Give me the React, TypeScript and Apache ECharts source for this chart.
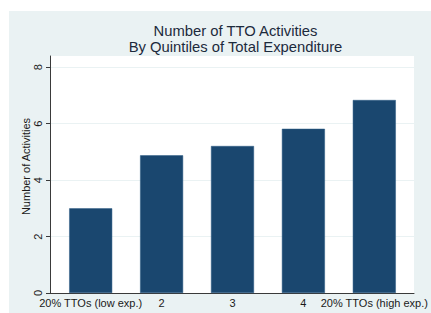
import React, { useEffect, useRef } from "react";
import * as echarts from "echarts";

const categories = [
  "20% TTOs (low exp.)",
  "2",
  "3",
  "4",
  "20% TTOs (high exp.)",
];
const activities = [3.0, 4.88, 5.21, 5.82, 6.84];
const yTicks = [0, 2, 4, 6, 8];

const BAR = "#1a476f";
const BG = "#eaf2f3";
const FONT = "'Liberation Sans', Arial, sans-serif";

export default function App() {
  const ref = useRef<HTMLDivElement>(null);
  useEffect(() => {
    if (!ref.current) return;
    const chart = echarts.init(ref.current, undefined, { renderer: "svg" });
    chart.setOption({
      animation: false,
      backgroundColor: "#ffffff",
      textStyle: { fontFamily: FONT },
      graphic: [
        {
          type: "rect",
          z: -10,
          silent: true,
          shape: { x: 9, y: 11, width: 422, height: 302 },
          style: { fill: BG },
        },
      ],
      title: {
        text: "Number of TTO Activities",
        subtext: "By Quintiles of Total Expenditure",
        left: 235.5,
        textAlign: "center",
        top: 24,
        itemGap: 0.5,
        padding: 0,
        textStyle: {
          fontFamily: FONT,
          fontSize: 14.8,
          fontWeight: "normal",
          color: "#1c2a3c",
          lineHeight: 14.2,
        },
        subtextStyle: {
          fontFamily: FONT,
          fontSize: 14.8,
          fontWeight: "normal",
          color: "#1c2a3c",
          lineHeight: 14.2,
        },
      },
      grid: {
        left: 50,
        right: 10,
        top: 56,
        bottom: 20,
        show: true,
        backgroundColor: "#ffffff",
        borderWidth: 0,
      },
      xAxis: {
        type: "value",
        min: 0.426,
        max: 5.56,
        axisLine: { show: true, lineStyle: { color: "#3a3a3a", width: 1 } },
        axisTick: { show: false },
        splitLine: { show: false },
        axisLabel: {
          customValues: categories.map((_, i) => i + 1),
          formatter: (v: number) => categories[Math.round(v) - 1] ?? "",
          color: "#1a1a1a",
          fontSize: 11,
          margin: 4,
          fontFamily: FONT,
        },
      },
      yAxis: {
        type: "value",
        min: 0,
        max: 8.4,
        name: "Number of Activities",
        nameLocation: "middle",
        nameGap: 19,
        nameMoveOverlap: false,
        nameTextStyle: {
          fontSize: 11,
          color: "#1a1a1a",
          fontFamily: FONT,
          padding: [0, 0, 0, 16],
        },
        axisLine: { show: true, lineStyle: { color: "#3a3a3a", width: 1 } },
        axisTick: {
          show: true,
          length: 4,
          customValues: yTicks,
          lineStyle: { color: "#3a3a3a" },
        },
        axisLabel: {
          customValues: yTicks,
          rotate: 90,
          fontSize: 11,
          color: "#1a1a1a",
          margin: 7,
          fontFamily: FONT,
        },
        splitLine: {
          show: true,
          lineStyle: { color: BG, width: 1 },
        },
      },
      series: [
        {
          type: "bar",
          barWidth: 43,
          itemStyle: { color: BAR, borderColor: "#2a5a85", borderWidth: 0.5 },
          data: activities.map((v, i) => [i + 1, v]),
        },
      ],
    });
    return () => chart.dispose();
  }, []);
  return (
    <div
      ref={ref}
      style={{ position: "fixed", left: 0, top: 0, width: 431, height: 313 }}
    />
  );
}
